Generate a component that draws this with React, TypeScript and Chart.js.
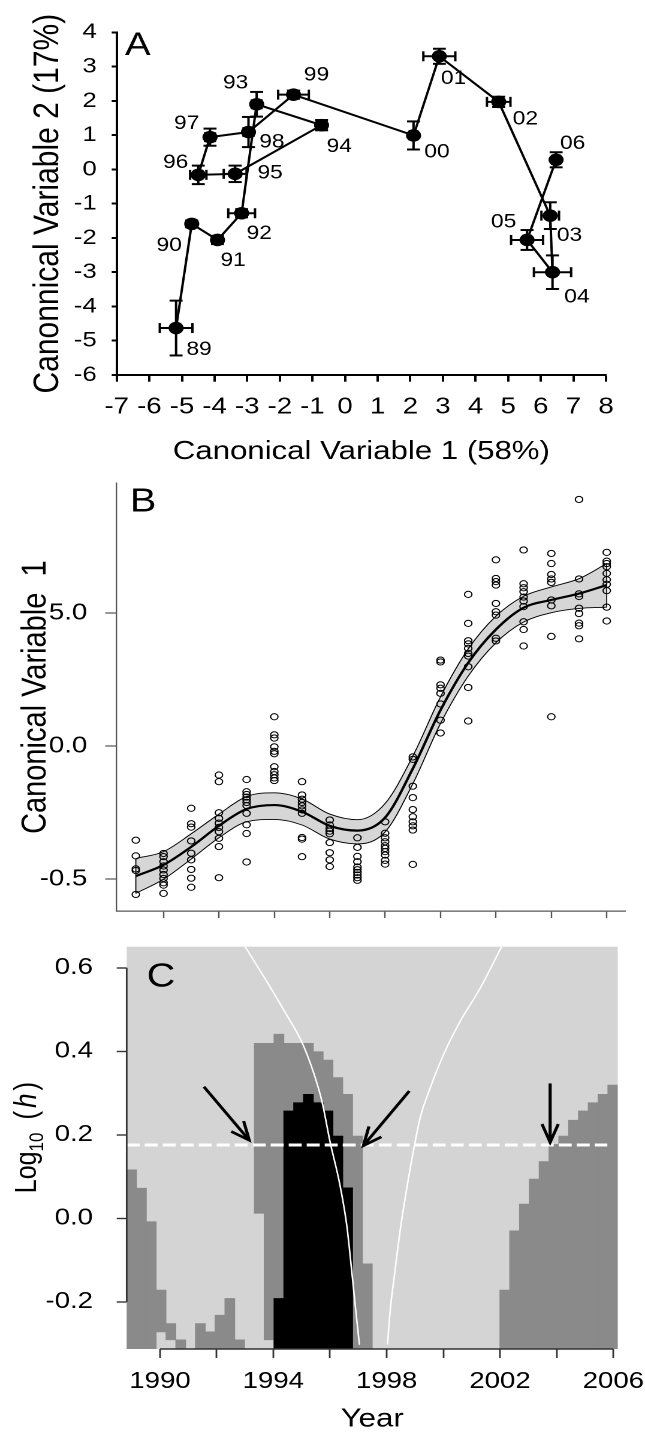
import React, { useEffect, useRef } from 'react';
import { Chart, registerables } from 'chart.js';

Chart.register(...registerables);

// The reference figure is stretched horizontally; each panel is drawn narrower and stretched with CSS.
const W0 = 538;
const S = 645 / W0;
const FONT = '"Liberation Sans", Arial, Helvetica, sans-serif';
Chart.defaults.font.family = FONT;

// ---------------- Panel A data ----------------
const A_LABELS = ['89', '90', '91', '92', '93', '94', '95', '96', '97', '98', '99', '00', '01', '02', '03', '04', '05', '06'];
const A_X = [-5.18, -4.70, -3.91, -3.17, -2.71, -0.72, -3.37, -4.50, -4.14, -2.96, -1.58, 2.10, 2.89, 4.71, 6.29, 6.36, 5.58, 6.47];
const A_Y = [-4.63, -1.59, -2.06, -1.28, 1.90, 1.29, -0.13, -0.16, 0.94, 1.09, 2.18, 0.99, 3.30, 1.97, -1.35, -3.00, -2.06, 0.28];
const A_XERR = [0.50, 0.10, 0.10, 0.41, 0.15, 0.15, 0.35, 0.25, 0.15, 0.15, 0.47, 0.12, 0.49, 0.36, 0.27, 0.57, 0.49, 0.12];
const A_YERR = [0.80, 0.10, 0.12, 0.12, 0.36, 0.15, 0.24, 0.27, 0.25, 0.44, 0.12, 0.41, 0.22, 0.15, 0.39, 0.49, 0.29, 0.22];
const A_X_TICKS = [-7, -6, -5, -4, -3, -2, -1, 0, 1, 2, 3, 4, 5, 6, 7, 8];
const A_Y_TICKS = [-6, -5, -4, -3, -2, -1, 0, 1, 2, 3, 4];
// label placement (page pixels, relative to the point)
const A_LABEL_DX = [23, -22.6, 15.6, 17.6, -21, 17.7, 35, -22.6, -23.3, 23.4, 23, 23.4, 14.3, 26.7, 19.3, 24.4, -23.4, 16.6];
const A_LABEL_DY = [21.7, 21.7, 21, 20.6, -21, 21.7, -0.6, -12, -13.4, 10, -19.2, 16.7, 22.3, 17.6, 20, 25, -17.6, -16];

// ---------------- Panel B data ----------------
const B_YEARS = [1989, 1990, 1991, 1992, 1993, 1994, 1995, 1996, 1997, 1998, 1999, 2000, 2001, 2002, 2003, 2004, 2005, 2006];
const B_OBS = [
  [-3.54, -4.13, -4.62, -4.68, -5.58],
  [-4.04, -4.16, -4.35, -4.51, -4.66, -4.83, -4.98, -5.14, -5.23, -5.54],
  [-2.34, -2.92, -3.05, -3.57, -4.03, -4.28, -4.64, -4.97, -5.31],
  [-1.09, -1.34, -2.51, -2.72, -2.90, -3.06, -3.22, -3.47, -3.78, -4.95],
  [-1.26, -1.72, -1.82, -1.92, -2.02, -2.12, -2.24, -2.53, -2.96, -3.29, -4.36],
  [1.10, 0.42, 0.30, -0.03, -0.20, -0.29, -0.78, -0.96, -1.08, -1.20, -1.30],
  [-1.34, -1.84, -2.00, -2.12, -2.25, -2.40, -2.53, -3.44, -3.50, -4.16],
  [-2.78, -2.97, -3.10, -3.20, -3.30, -3.63, -4.01, -4.28, -4.53],
  [-3.45, -3.81, -4.15, -4.35, -4.55, -4.65, -4.75, -4.85, -4.95, -5.05],
  [-2.85, -3.28, -3.45, -3.60, -3.75, -3.85, -3.97, -4.10, -4.30, -4.44],
  [-0.41, -0.50, -1.51, -1.94, -2.39, -2.66, -2.85, -3.00, -3.16, -4.45],
  [3.23, 3.16, 2.30, 2.17, 1.98, 1.58, 0.97, 0.49],
  [5.70, 4.61, 3.96, 3.84, 3.67, 3.48, 3.38, 2.98, 2.20, 0.94],
  [7.00, 6.30, 6.18, 6.05, 5.36, 5.05, 4.92, 4.05, 3.95],
  [7.37, 6.10, 5.95, 5.80, 5.60, 5.45, 5.24, 4.67, 4.38, 3.76],
  [7.24, 6.86, 6.45, 6.28, 6.15, 5.49, 5.27, 4.12, 1.10],
  [9.27, 6.28, 5.72, 5.62, 5.18, 4.98, 4.62, 4.52, 4.03],
  [7.28, 6.95, 6.86, 6.74, 6.49, 6.25, 6.08, 5.84, 5.22, 4.70],
];
const B_FIT = [-4.89, -4.47, -3.79, -3.00, -2.37, -2.22, -2.47, -3.00, -3.18, -2.69, -0.85, 1.35, 3.13, 4.38, 5.20, 5.49, 5.73, 6.05];
const B_UPPER = [-4.23, -3.97, -3.30, -2.56, -1.90, -1.76, -1.99, -2.56, -2.77, -2.16, -0.38, 1.85, 3.65, 4.88, 5.63, 5.98, 6.29, 6.86];
const B_LOWER = [-5.54, -5.01, -4.25, -3.45, -2.85, -2.76, -2.97, -3.50, -3.68, -3.23, -1.42, 0.85, 2.63, 3.88, 4.66, 5.01, 5.17, 5.22];
const B_X_TICKS = [1990, 1992, 1994, 1996, 1998, 2000, 2002, 2004, 2006];
const B_Y_TICKS = [-5, 0, 5];
const B_Y_TICK_LABELS = ['-0.5', '0.0', '5.0'];

// ---------------- Panel C data ----------------
const C_Y_MIN = -0.313;
const C_Y_MAX = 0.6505;
// 50 bins across the year axis; null = no dark-grey cell
const C_GREY_HI = [
  0.116, 0.072, -0.008, -0.172, -0.252, -0.291, null, -0.252, -0.272, -0.232,
  -0.192, -0.291, null, 0.419, 0.419, 0.441, 0.419, 0.419, 0.419, 0.399,
  0.379, 0.337, 0.297, 0.197, -0.109, null, null, null, null, null,
  null, null, null, null, null, null, null, null, -0.172, -0.030,
  0.034, 0.094, 0.136, 0.177, 0.197, 0.235, 0.257, 0.277, 0.297, 0.319,
];
// lower edge of dark-grey cells that do not start at the bottom (null = bottom)
const C_GREY_LO = [
  null, null, null, -0.272, -0.291, null, null, null, null, null,
  null, null, null, 0.012, -0.291, null, null, null, null, null,
  null, null, null, null, null, null, null, null, null, null,
  null, null, null, null, null, null, null, null, null, null,
  null, null, null, null, null, null, null, null, null, null,
];
const C_BLACK_HI = [
  null, null, null, null, null, null, null, null, null, null,
  null, null, null, null, null, -0.192, 0.257, 0.277, 0.297, 0.277,
  0.257, 0.197, 0.073, null, null, null, null, null, null, null,
  null, null, null, null, null, null, null, null, null, null,
  null, null, null, null, null, null, null, null, null, null,
];
const C_LEFT_YEAR = [1993.0, 1993.77, 1994.47, 1995.0, 1995.41, 1995.72, 1996.0, 1996.35, 1996.59, 1996.77, 1996.89, 1997.04];
const C_LEFT_H = [0.651, 0.567, 0.487, 0.423, 0.351, 0.279, 0.184, 0.080, -0.016, -0.128, -0.208, -0.303];
const C_RIGHT_YEAR = [1998.03, 1998.12, 1998.29, 1998.47, 1998.71, 1998.94, 1999.18, 1999.53, 2000.0, 2000.59, 2001.30, 2002.06];
const C_RIGHT_H = [-0.302, -0.224, -0.128, -0.032, 0.072, 0.160, 0.240, 0.311, 0.391, 0.471, 0.551, 0.651];
const C_THRESHOLD = 0.1755;
const C_THRESHOLD_YEARS = [1988.825, 2005.79];
const C_ARROW_FROM_YEAR = [1991.55, 1998.80, 2003.77];
const C_ARROW_FROM_H = [0.315, 0.305, 0.323];
const C_ARROW_TO_YEAR = [1993.15, 1997.18, 2003.77];
const C_ARROW_TO_H = [0.187, 0.174, 0.182];
const C_X_TICKS = [1990, 1992, 1994, 1996, 1998, 2000, 2002, 2004, 2006];
const C_X_TICK_LABELS = ['1990', '', '1994', '', '1998', '', '2002', '', '2006'];
const C_Y_TICKS = [-0.2, 0, 0.2, 0.4, 0.6];
const C_Y_TICK_LABELS = ['-0.2', '0.0', '0.2', '0.4', '0.6'];

// ---------------- helpers ----------------
const zeroPad = (s: any) => {
  s.paddingLeft = 0; s.paddingRight = 0; s.paddingTop = 0; s.paddingBottom = 0;
};
const fixTicks = (vals: number[]) => (s: any) => { s.ticks = vals.map((v) => ({ value: v })); };
const base = {
  animation: false,
  responsive: true,
  maintainAspectRatio: false,
  devicePixelRatio: 2,
  events: [],
  plugins: { legend: { display: false }, tooltip: { enabled: false } },
};

// ---------------- Panel A ----------------
const aPlugin = {
  id: 'aExtras',
  afterDatasetsDraw(chart: any) {
    const { ctx, chartArea: ca } = chart;
    const x = chart.scales.x, y = chart.scales.y;
    ctx.save();
    ctx.strokeStyle = '#000';
    ctx.lineWidth = 2;
    const capV = 5;
    const capH = 6.5 / S;
    const seg = (x0: number, y0: number, x1: number, y1: number) => {
      ctx.beginPath(); ctx.moveTo(x0, y0); ctx.lineTo(x1, y1); ctx.stroke();
    };
    A_X.forEach((xv, i) => {
      const px = x.getPixelForValue(xv), py = y.getPixelForValue(A_Y[i]);
      const x0 = x.getPixelForValue(xv - A_XERR[i]), x1 = x.getPixelForValue(xv + A_XERR[i]);
      const y0 = y.getPixelForValue(A_Y[i] - A_YERR[i]), y1 = y.getPixelForValue(A_Y[i] + A_YERR[i]);
      seg(x0, py, x1, py); seg(x0, py - capV, x0, py + capV); seg(x1, py - capV, x1, py + capV);
      seg(px, y0, px, y1); seg(px - capH, y0, px + capH, y0); seg(px - capH, y1, px + capH, y1);
    });
    ctx.fillStyle = '#000';
    ctx.font = `19px ${FONT}`;
    ctx.textAlign = 'center';
    ctx.textBaseline = 'middle';
    A_LABELS.forEach((t, i) => {
      const px = x.getPixelForValue(A_X[i]), py = y.getPixelForValue(A_Y[i]);
      ctx.fillText(t, px + A_LABEL_DX[i] / S, py + A_LABEL_DY[i]);
    });
    ctx.font = `32px ${FONT}`;
    ctx.textAlign = 'left';
    ctx.textBaseline = 'alphabetic';
    ctx.fillText('A', ca.left + 8.3 / S, ca.top + 22.7);
    ctx.restore();
  },
};

const configA = () => ({
  type: 'scatter',
  data: {
    datasets: [{
      data: A_X.map((xv, i) => ({ x: xv, y: A_Y[i] })),
      showLine: true,
      borderColor: '#000',
      borderWidth: 2,
      pointRadius: 6.3,
      pointHoverRadius: 6.3,
      pointBackgroundColor: '#000',
      pointBorderWidth: 0,
    }],
  },
  options: {
    ...base,
    layout: { padding: { left: 0, top: 32.3, right: (645 - 606) / S, bottom: 0 } },
    scales: {
      x: {
        type: 'linear', min: -7, max: 8,
        afterBuildTicks: fixTicks(A_X_TICKS),
        afterFit: (s: any) => { s.height = 470 - 375; zeroPad(s); },
        grid: { display: true, drawOnChartArea: false, drawTicks: true, tickLength: 6.7, tickWidth: 2, tickColor: '#000' },
        border: { display: true, color: '#000', width: 2 },
        ticks: { color: '#000', font: { size: 23 }, padding: 11.5, maxRotation: 0, minRotation: 0, autoSkip: false, callback: (v: any, i: number) => String(A_X_TICKS[i]) },
        title: { display: true, text: 'Canonical Variable 1 (58%)', color: '#000', font: { size: 26 }, padding: { top: 0, bottom: 2.7 } },
      },
      y: {
        type: 'linear', min: -6, max: 4,
        afterBuildTicks: fixTicks(A_Y_TICKS),
        afterFit: (s: any) => { s.width = 116.7 / S; zeroPad(s); },
        grid: { display: true, drawOnChartArea: false, drawTicks: true, tickLength: 5 / S, tickWidth: 2, tickColor: '#000' },
        border: { display: true, color: '#000', width: 2 },
        ticks: { color: '#000', font: { size: 21.5 }, padding: 12.5, autoSkip: false, callback: (v: any, i: number) => String(A_Y_TICKS[i]) },
        title: { display: true, text: 'Canonnical Variable 2 (17%)', color: '#000', font: { size: 30 }, padding: { top: 22, bottom: 0 } },
      },
    },
  },
  plugins: [aPlugin],
});

// ---------------- Panel B ----------------
const bPlugin = {
  id: 'bExtras',
  afterDatasetsDraw(chart: any) {
    const { ctx, chartArea: ca } = chart;
    const x = chart.scales.x, y = chart.scales.y;
    ctx.save();
    ctx.strokeStyle = '#000';
    ctx.lineWidth = 0.9;
    [0, B_YEARS.length - 1].forEach((i) => {
      const px = x.getPixelForValue(B_YEARS[i]);
      ctx.beginPath();
      ctx.moveTo(px, y.getPixelForValue(B_UPPER[i]));
      ctx.lineTo(px, y.getPixelForValue(B_LOWER[i]));
      ctx.stroke();
    });
    ctx.fillStyle = '#000';
    ctx.font = `33px ${FONT}`;
    ctx.textAlign = 'left';
    ctx.textBaseline = 'alphabetic';
    ctx.fillText('B', ca.left + 13.3 / S, ca.top + 28.4);
    ctx.restore();
  },
};

const configB = () => {
  const line = (vals: number[], w: number, order: number, extra: any = {}) => ({
    type: 'line',
    data: B_YEARS.map((yr, i) => ({ x: yr, y: vals[i] })),
    borderColor: '#000',
    borderWidth: w,
    pointRadius: 0,
    cubicInterpolationMode: 'monotone',
    fill: false,
    order,
    ...extra,
  });
  return {
    type: 'line',
    data: {
      datasets: [
        {
          type: 'line',
          data: B_YEARS.flatMap((yr, i) => B_OBS[i].map((v) => ({ x: yr, y: v }))),
          showLine: false,
          pointRadius: 3.1,
          pointHoverRadius: 3.1,
          pointBorderWidth: 1,
          pointBorderColor: '#000',
          pointBackgroundColor: 'rgba(0,0,0,0)',
          order: 0,
        },
        line(B_FIT, 2.2, 1),
        line(B_UPPER, 0.9, 3, { fill: '+1', backgroundColor: '#d6d6d6' }),
        line(B_LOWER, 0.9, 2),
      ],
    },
    options: {
      ...base,
      layout: { padding: { left: 0, top: 483.3 - 470, right: (645 - 625) / S, bottom: 0 } },
      scales: {
        x: {
          type: 'linear', min: 1988.31, max: 2006.66,
          afterBuildTicks: fixTicks(B_X_TICKS),
          afterFit: (s: any) => { s.height = 460 - (911 - 470); zeroPad(s); },
          grid: { display: true, drawOnChartArea: false, drawTicks: true, tickLength: 7, tickWidth: 1.2, tickColor: '#555' },
          border: { display: true, color: '#555', width: 1.2 },
          ticks: { maxRotation: 0, minRotation: 0, autoSkip: false, padding: 0, callback: () => '' },
        },
        y: {
          type: 'linear', min: -6.203, max: 9.876,
          afterBuildTicks: fixTicks(B_Y_TICKS),
          afterFit: (s: any) => { s.width = 116.7 / S; zeroPad(s); },
          grid: { display: true, drawOnChartArea: false, drawTicks: true, tickLength: 11.5 / S, tickWidth: 1.2, tickColor: '#555' },
          border: { display: true, color: '#555', width: 1.2 },
          ticks: { color: '#000', font: { size: 23 }, padding: 15, autoSkip: false, callback: (v: any, i: number) => B_Y_TICK_LABELS[i] },
          title: { display: true, text: 'Canonical Variable  1', color: '#000', font: { size: 29 }, padding: { top: 12.6, bottom: 0 } },
        },
      },
    },
    plugins: [bPlugin],
  };
};

// ---------------- Panel C ----------------
const cPlugin = {
  id: 'cExtras',
  beforeDraw(chart: any) {
    const { ctx, chartArea: ca } = chart;
    ctx.save();
    ctx.fillStyle = '#d4d4d4';
    ctx.fillRect(ca.left, ca.top, ca.right - ca.left, ca.bottom - ca.top);
    ctx.restore();
  },
  afterDatasetsDraw(chart: any) {
    const { ctx } = chart;
    const x = chart.scales.x, y = chart.scales.y;
    ctx.save();
    ctx.strokeStyle = '#000';
    ctx.lineWidth = 2.6;
    ctx.lineCap = 'butt';
    C_ARROW_FROM_YEAR.forEach((fy, i) => {
      const fx = x.getPixelForValue(fy) * S, fyp = y.getPixelForValue(C_ARROW_FROM_H[i]);
      const tx = x.getPixelForValue(C_ARROW_TO_YEAR[i]) * S, ty = y.getPixelForValue(C_ARROW_TO_H[i]);
      const ang = Math.atan2(ty - fyp, tx - fx);
      const L = 20, a = (24 * Math.PI) / 180;
      ctx.beginPath();
      ctx.moveTo(fx / S, fyp);
      ctx.lineTo(tx / S, ty);
      ctx.stroke();
      ctx.beginPath();
      ctx.moveTo((tx - L * Math.cos(ang - a)) / S, ty - L * Math.sin(ang - a));
      ctx.lineTo(tx / S, ty);
      ctx.lineTo((tx - L * Math.cos(ang + a)) / S, ty - L * Math.sin(ang + a));
      ctx.stroke();
    });
    ctx.restore();
  },
  afterDraw(chart: any) {
    const { ctx, chartArea: ca } = chart;
    const x = chart.scales.x, y = chart.scales.y;
    ctx.save();
    ctx.strokeStyle = '#333';
    ctx.lineWidth = 1.4;
    ctx.beginPath();
    ctx.moveTo(ca.left, y.getPixelForValue(C_Y_TICKS[0]));
    ctx.lineTo(ca.left, y.getPixelForValue(C_Y_TICKS[C_Y_TICKS.length - 1]));
    ctx.moveTo(x.getPixelForValue(C_X_TICKS[0]), ca.bottom);
    ctx.lineTo(x.getPixelForValue(C_X_TICKS[C_X_TICKS.length - 1]), ca.bottom);
    ctx.stroke();
    ctx.fillStyle = '#000';
    ctx.font = `33px ${FONT}`;
    ctx.textAlign = 'left';
    ctx.textBaseline = 'alphabetic';
    ctx.fillText('C', ca.left + 20 / S, ca.top + 39.8);
    // y-axis title: Log10 (h)
    const pieces = [
      { t: 'Log', f: `25px ${FONT}`, dy: 0, gap: 0 },
      { t: '10', f: `17px ${FONT}`, dy: 6, gap: 0 },
      { t: '(', f: `26px ${FONT}`, dy: 0, gap: 13 },
      { t: 'h', f: `italic 26px ${FONT}`, dy: 0, gap: 3 },
      { t: ')', f: `26px ${FONT}`, dy: 0, gap: 3 },
    ];
    let total = 0;
    const widths = pieces.map((p) => { ctx.font = p.f; const w = ctx.measureText(p.t).width; total += w + p.gap; return w; });
    ctx.translate(25 / S, ca.top + 190.8);
    ctx.rotate(-Math.PI / 2);
    ctx.textAlign = 'left';
    ctx.textBaseline = 'alphabetic';
    let pos = -total / 2;
    pieces.forEach((p, i) => {
      pos += p.gap;
      ctx.font = p.f;
      ctx.fillText(p.t, pos, 9 + p.dy);
      pos += widths[i];
    });
    ctx.restore();
  },
};

const configC = () => {
  const greyBars = C_GREY_HI.map((hi, i) => (hi === null ? null : [C_GREY_LO[i] === null ? C_Y_MIN : C_GREY_LO[i], hi]));
  const blackBars = C_BLACK_HI.map((hi) => (hi === null ? null : [C_Y_MIN, hi]));
  const whiteLine = (xs: number[], ys: number[], extra: any = {}) => ({
    type: 'line',
    xAxisID: 'x',
    yAxisID: 'y',
    data: xs.map((xv, i) => ({ x: xv, y: ys[i] })),
    borderColor: '#ffffff',
    borderWidth: 1.3,
    pointRadius: 0,
    fill: false,
    cubicInterpolationMode: 'monotone',
    order: 0,
    ...extra,
  });
  return {
    type: 'bar',
    data: {
      labels: C_GREY_HI.map((_, i) => String(i)),
      datasets: [
        whiteLine(C_LEFT_YEAR, C_LEFT_H),
        whiteLine(C_RIGHT_YEAR, C_RIGHT_H),
        whiteLine(C_THRESHOLD_YEARS, C_THRESHOLD_YEARS.map(() => C_THRESHOLD), { borderWidth: 3, borderDash: [13 / S, 5 / S], cubicInterpolationMode: 'default' }),
        {
          type: 'bar', xAxisID: 'xb', yAxisID: 'y', data: blackBars, backgroundColor: '#000000',
          borderWidth: 0, grouped: false, categoryPercentage: 1, barPercentage: 1, order: 1,
        },
        {
          type: 'bar', xAxisID: 'xb', yAxisID: 'y', data: greyBars, backgroundColor: '#8a8a8a',
          borderWidth: 0, grouped: false, categoryPercentage: 1, barPercentage: 1, order: 2,
        },
      ],
    },
    options: {
      ...base,
      layout: { padding: { left: 0, top: 946.7 - 930, right: (645 - 617.7) / S, bottom: 0 } },
      scales: {
        xb: { type: 'category', display: false, offset: true },
        x: {
          type: 'linear', min: 1988.825, max: 2006.155, offset: false,
          afterBuildTicks: fixTicks(C_X_TICKS),
          afterFit: (s: any) => { s.height = 505 - (1349 - 930); zeroPad(s); },
          grid: { display: true, offset: false, drawOnChartArea: false, drawTicks: true, tickLength: 9, tickWidth: 1.4, tickColor: '#333' },
          border: { display: false },
          ticks: { color: '#000', font: { size: 23 }, padding: 9.9, maxRotation: 0, minRotation: 0, autoSkip: false, callback: (v: any, i: number) => C_X_TICK_LABELS[i] },
          title: { display: true, text: 'Year', color: '#000', font: { size: 26 }, padding: { top: 0, bottom: 0 } },
        },
        y: {
          type: 'linear', min: C_Y_MIN, max: C_Y_MAX, beginAtZero: false,
          afterBuildTicks: fixTicks(C_Y_TICKS),
          afterFit: (s: any) => { s.width = 126.7 / S; zeroPad(s); },
          grid: { display: true, drawOnChartArea: false, drawTicks: true, tickLength: 10 / S, tickWidth: 1.4, tickColor: '#333' },
          border: { display: false },
          ticks: { color: '#000', font: { size: 23 }, padding: 19.8, autoSkip: false, callback: (v: any, i: number) => C_Y_TICK_LABELS[i] },
        },
      },
    },
    plugins: [cPlugin],
  };
};

// ---------------- components ----------------
function Panel({ top, height, config }: { top: number; height: number; config: () => any }) {
  const ref = useRef<HTMLCanvasElement | null>(null);
  useEffect(() => {
    if (!ref.current) return;
    const chart = new Chart(ref.current, config() as any);
    return () => chart.destroy();
  }, []);
  return (
    <div
      style={{
        position: 'absolute', left: 0, top, width: W0, height,
        transform: `scaleX(${S})`, transformOrigin: '0 0',
      }}
    >
      <canvas ref={ref} />
    </div>
  );
}

export default function App() {
  return (
    <div style={{ position: 'absolute', left: 0, top: 0, width: 645, height: 1435, background: '#fff', overflow: 'hidden' }}>
      <Panel top={0} height={470} config={configA} />
      <Panel top={470} height={460} config={configB} />
      <Panel top={930} height={505} config={configC} />
    </div>
  );
}
